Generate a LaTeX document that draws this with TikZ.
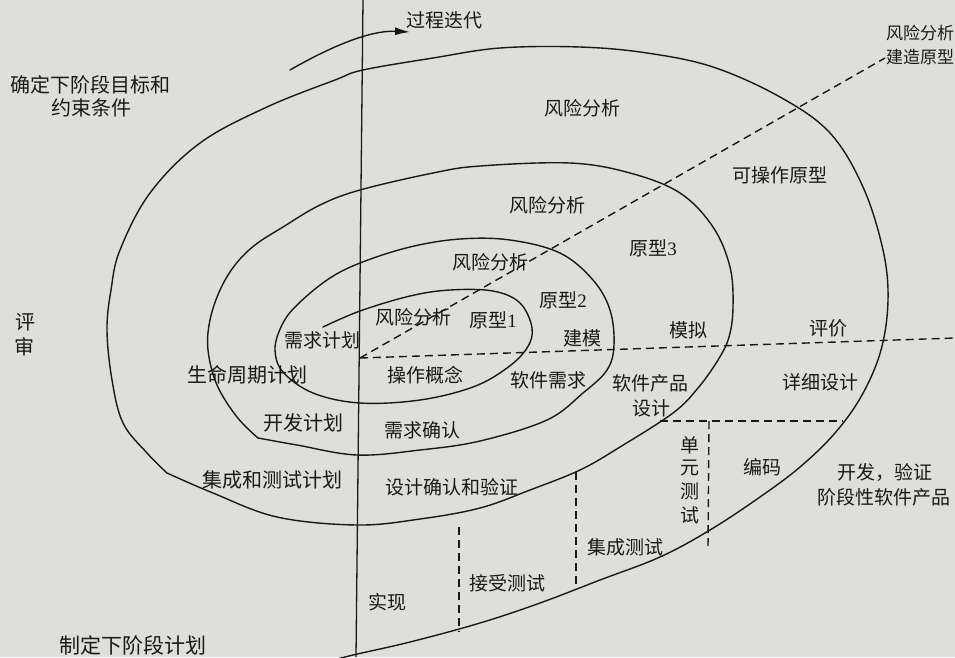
\documentclass[tikz,border=0pt]{standalone}
\usepackage{fontspec}
\setmainfont{Noto Sans CJK SC}
\newfontfamily\numfont{Liberation Serif}
\usetikzlibrary{arrows.meta}
\definecolor{paper}{RGB}{222,222,218}
\definecolor{ink}{RGB}{25,25,25}
\tikzset{
  lbl/.style={font=\fontsize{19}{21}\selectfont, text=ink, inner sep=0pt, anchor=center},
  spiralline/.style={draw=ink, line width=1.4pt, line join=round, line cap=round},
  dline/.style={draw=ink, line width=1.4pt, dash pattern=on 8pt off 5pt},
  axisline/.style={draw=ink, line width=1.3pt}
}
\begin{document}
\begin{tikzpicture}[x=1pt,y=-1pt]
\useasboundingbox (0,0) rectangle (955,657);
\fill[paper] (0,0) rectangle (955,657);

% axis
\coordinate (axtop) at (363,0);
\coordinate (axbot) at (356,657);
\draw[axisline] (axtop) -- (axbot);

% dashed lines
\coordinate (ctr) at (360,358);
\coordinate (hend) at (955,338);
\coordinate (dend) at (885,58);
\draw[dline] (ctr) -- (hend);
\draw[dline] (ctr) -- (dend);
\coordinate (h2a) at (660,421);
\coordinate (h2b) at (843,421);
\draw[dline] (h2a) -- (h2b);
\coordinate (v1a) at (709,421);
\coordinate (v1b) at (708,547);
\draw[dline] (v1a) -- (v1b);
\coordinate (v2a) at (576,472);
\coordinate (v2b) at (576,590);
\draw[dline] (v2a) -- (v2b);
\coordinate (v3a) at (459,527);
\coordinate (v3b) at (459,632);
\draw[dline] (v3a) -- (v3b);

% spiral
\draw[spiralline] plot[smooth, tension=0.6] coordinates {
 (323,327) (360,311) (410,296) (450,290) (493,291) (520,303) (532,328) (527,348)
 (507,368) (473,387) (420,400) (360,403) (313,393) (283,372) (275,350) (281,327)
 (295,307) (327,280) (360,263) (410,247) (460,239) (510,240) (560,253) (593,280)
 (610,310) (614,345) (607,370) (583,393) (547,420) (480,441) (420,450) (357,455)
 (297,445) (258,438)}
 -- plot[smooth, tension=0.6] coordinates {
 (258,438) (237,417) (217,385) (208,350) (210,320) (220,290) (235,265) (255,245)
 (283,227) (320,205) (360,190) (433,173) (480,166) (570,163) (630,173) (680,193)
 (713,227) (730,267) (733,307) (729,337) (718,360) (698,388) (673,413) (620,447)
 (580,470) (530,490) (480,508) (420,519) (357,525) (277,517) (213,493) (167,473)}
 -- plot[smooth, tension=0.6] coordinates {
 (167,473) (147,453) (123,423) (112,380) (107,330) (111,290) (120,250) (150,193)
 (200,143) (267,107) (335,80) (363,70) (433,58) (500,48) (580,47) (647,53)
 (713,67) (780,97) (830,133) (863,187) (883,250) (888,300) (881,350) (862,395)
 (835,433) (800,467) (760,497) (710,530) (660,557) (600,580) (540,603) (480,623)
 (410,642) (353,655) (330,661)};

% iteration arrow
\coordinate (arrS) at (290,70);
\coordinate (arrE) at (410,32);
\draw[spiralline, -{Latex[length=15pt,width=8pt]}] (arrS) .. controls (330,47) and (370,30) .. (arrE);

% labels
\node[lbl] (iter) at (444,20) {过程迭代};
\node[lbl, font=\fontsize{20}{22}\selectfont] (goal1) at (90,85) {确定下阶段目标和};
\node[lbl, font=\fontsize{20}{22}\selectfont] (goal2) at (91,108) {约束条件};
\node[lbl, font=\fontsize{17}{19}\selectfont] (ra0a) at (920,33) {风险分析};
\node[lbl, font=\fontsize{17}{19}\selectfont] (ra0b) at (920,57) {建造原型};
\node[lbl] (ra4) at (582,108) {风险分析};
\node[lbl] (opproto) at (780,175) {可操作原型};
\node[lbl] (ra3) at (547,205) {风险分析};
\node[lbl] (p3) at (653,248) {原型{\numfont 3}};
\node[lbl] (ra2) at (490,262) {风险分析};
\node[lbl] (p2) at (563,300) {原型{\numfont 2}};
\node[lbl] (ra1) at (413,317) {风险分析};
\node[lbl] (p1) at (493,320) {原型{\numfont 1}};
\node[lbl] (model) at (582,338) {建模};
\node[lbl] (reqplan) at (322,340) {需求计划};
\node[lbl] (sim) at (688,330) {模拟};
\node[lbl] (eval) at (828,328) {评价};
\node[lbl] (opcon) at (425,375) {操作概念};
\node[lbl] (swreq) at (548,380) {软件需求};
\node[lbl] (spd1) at (650,383) {软件产品};
\node[lbl] (spd2) at (651,408) {设计};
\node[lbl] (detail) at (820,382) {详细设计};
\node[lbl, font=\fontsize{20}{22}\selectfont] (lcp) at (247,375) {生命周期计划};
\node[lbl, font=\fontsize{20}{22}\selectfont] (rev1) at (25,322) {评};
\node[lbl, font=\fontsize{20}{22}\selectfont] (rev2) at (24,347) {审};
\node[lbl, font=\fontsize{20}{22}\selectfont] (devplan) at (303,423) {开发计划};
\node[lbl] (reqval) at (422,430) {需求确认};
\node[lbl] (ut1) at (690,445) {单};
\node[lbl] (ut2) at (690,468) {元};
\node[lbl] (ut3) at (690,491) {测};
\node[lbl] (ut4) at (690,515) {试};
\node[lbl] (code) at (762,467) {编码};
\node[lbl] (dev1) at (885,472) {开发，验证};
\node[lbl] (dev2) at (884,497) {阶段性软件产品};
\node[lbl, font=\fontsize{20}{22}\selectfont] (itp) at (272,480) {集成和测试计划};
\node[lbl] (dvv) at (452,487) {设计确认和验证};
\node[lbl] (it) at (625,547) {集成测试};
\node[lbl] (at) at (507,583) {接受测试};
\node[lbl] (impl) at (387,602) {实现};
\node[lbl, font=\fontsize{21}{23}\selectfont] (nextplan) at (133,645) {制定下阶段计划};
\end{tikzpicture}
\end{document}
